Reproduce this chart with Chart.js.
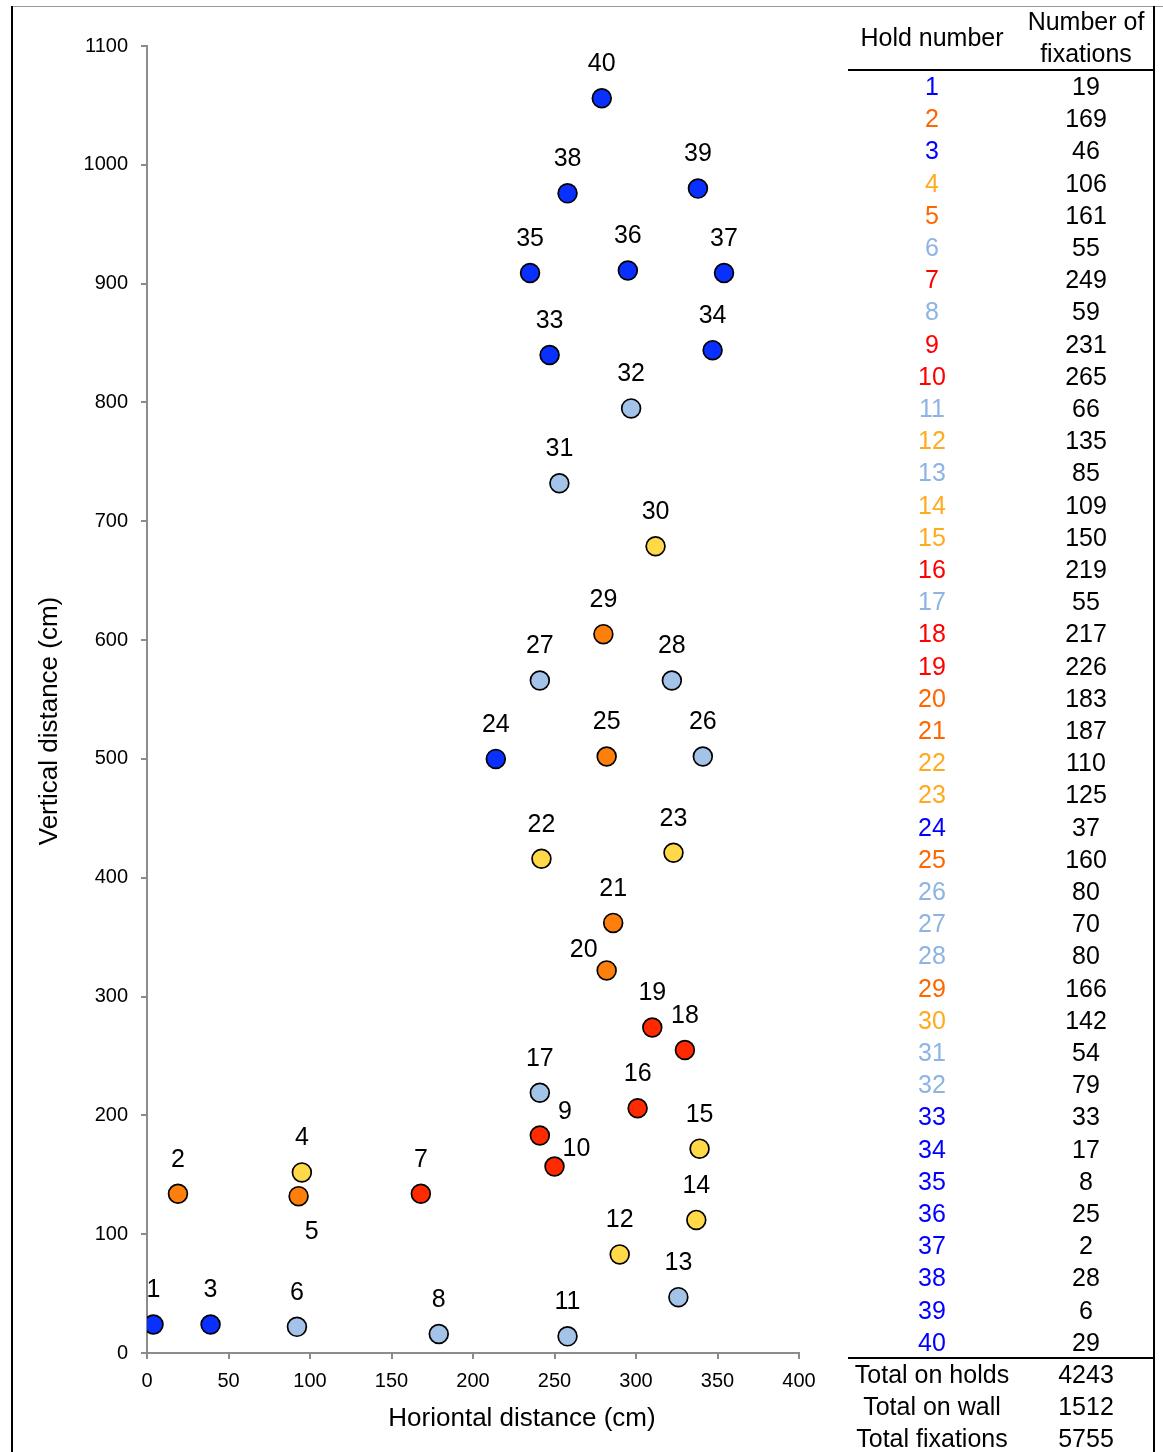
<!DOCTYPE html>
<html lang="en">
<head>
    <meta charset="UTF-8">
    <title>Hold fixations</title>
    <script src="https://cdn.jsdelivr.net/npm/chart.js"></script>
    <style>
        body {
            margin: 0;
            background: #fff;
            font-family: "Liberation Sans", Arial, sans-serif;
        }
        .page {
            position: relative;
            width: 1163px;
            height: 1452px;
            overflow: hidden;
        }
        #holdChart {
            position: absolute;
            left: 0;
            top: 0;
        }
        .frame-left, .frame-right {
            position: absolute;
            top: 6px;
            width: 2px;
            height: 1446px;
            background: #000;
        }
        .frame-left { left: 11px; }
        .frame-right { left: 1153px; }
        .frame-top {
            position: absolute;
            left: 11px;
            top: 6px;
            width: 1152px;
            height: 1px;
            background: #9a9a9a;
        }
        .tbl {
            position: absolute;
            left: 848px;
            top: 0;
            width: 306px;
            color: #000;
            font-size: 25px;
        }
        .cell {
            position: absolute;
            text-align: center;
            white-space: nowrap;
        }
        .col1 { left: 0; width: 168px; }
        .col2 { left: 168px; width: 140px; }
        .rule {
            position: absolute;
            left: 0;
            width: 306px;
            height: 2px;
            background: #000;
        }
    </style>
</head>
<body>
<div class="page">
    <canvas id="holdChart" width="1163" height="1452"></canvas>
    <div class="frame-top"></div>
    <div class="frame-left"></div>
    <div class="frame-right"></div>
    <div class="tbl" id="holdTable"></div>
</div>

<script>
    // hold positions (cm)
    const holdNumbers = [1, 2, 3, 4, 5, 6, 7, 8, 9, 10, 11, 12, 13, 14, 15, 16, 17, 18, 19, 20,
                         21, 22, 23, 24, 25, 26, 27, 28, 29, 30, 31, 32, 33, 34, 35, 36, 37, 38, 39, 40];
    const holdX = [4, 19, 39, 95, 93, 92, 168, 179, 241, 250, 258, 290, 326, 337, 339, 301, 241, 330, 310, 282,
                   286, 242, 323, 214, 282, 341, 241, 322, 280, 312, 253, 297, 247, 347, 235, 295, 354, 258, 338, 279];
    const holdY = [24, 134, 24, 152, 132, 22, 134, 16, 183, 157, 14, 83, 47, 112, 172, 206, 219, 255, 274, 322,
                   362, 416, 421, 500, 502, 502, 566, 566, 605, 679, 732, 795, 840, 844, 909, 911, 909, 976, 980, 1056];
    // B = dark blue, O = orange, Y = yellow, R = red, L = light blue
    const holdGroup = ['B', 'O', 'B', 'Y', 'O', 'L', 'R', 'L', 'R', 'R', 'L', 'Y', 'L', 'Y', 'Y', 'R', 'L', 'R', 'R', 'O',
                       'O', 'Y', 'Y', 'B', 'O', 'L', 'L', 'L', 'O', 'Y', 'L', 'L', 'B', 'B', 'B', 'B', 'B', 'B', 'B', 'B'];
    const fixations = [19, 169, 46, 106, 161, 55, 249, 59, 231, 265, 66, 135, 85, 109, 150, 219, 55, 217, 226, 183,
                       187, 110, 125, 37, 160, 80, 70, 80, 166, 142, 54, 79, 33, 17, 8, 25, 2, 28, 6, 29];
    const totalLabels = ['Total on holds', 'Total on wall', 'Total fixations'];
    const totalValues = [4243, 1512, 5755];

    const markerColors = { B: '#0a30ff', O: '#ff7f0c', Y: '#ffd948', R: '#ff2a00', L: '#a3c3e9' };
    const textColors = { B: '#0000ff', O: '#ff6600', Y: '#ffab1f', R: '#ff0000', L: '#8db4e2' };

    const FONT = '"Liberation Sans", Arial, sans-serif';

    // labels that don't sit straight above their marker
    const labelShift = { 5: [13, 36], 9: [25, -23], 10: [22, -17], 20: [-23, -20] };

    const holdLabels = {
        id: 'holdLabels',
        afterDatasetsDraw(chart) {
            const ctx = chart.ctx;
            const xs = chart.scales.x, ys = chart.scales.y;
            ctx.save();
            ctx.font = '25px ' + FONT;
            ctx.fillStyle = '#000';
            ctx.textAlign = 'center';
            ctx.textBaseline = 'middle';
            holdNumbers.forEach((n, i) => {
                const s = labelShift[n] || [0, -34];
                ctx.fillText(String(n), xs.getPixelForValue(holdX[i]) + s[0], ys.getPixelForValue(holdY[i]) + s[1]);
            });
            ctx.restore();
        },
        afterDraw(chart) {
            // axis titles, placed like the original (not centred on the plot)
            const ctx = chart.ctx;
            const a = chart.chartArea;
            ctx.save();
            ctx.font = '26px ' + FONT;
            ctx.fillStyle = '#000';
            ctx.textAlign = 'center';
            ctx.textBaseline = 'middle';
            ctx.fillText('Horiontal distance (cm)', a.left + 375, a.bottom + 66);
            ctx.translate(a.left - 97, a.top + 675);
            ctx.rotate(-Math.PI / 2);
            ctx.fillText('Vertical distance (cm)', 0, 0);
            ctx.restore();
        }
    };

    const axisGrey = '#8c8c8c';
    const plainTick = v => String(v);

    const ctx = document.getElementById('holdChart').getContext('2d');
    const holdChart = new Chart(ctx, {
        type: 'scatter',
        data: {
            datasets: [{
                data: holdX.map((x, i) => ({ x: x, y: holdY[i] })),
                backgroundColor: holdGroup.map(g => markerColors[g]),
                borderColor: '#000',
                borderWidth: 1.7,
                pointRadius: 9.4,
                pointHoverRadius: 9.4
            }]
        },
        options: {
            responsive: false,
            animation: false,
            events: [],
            layout: { padding: { left: 30, top: 46, right: 364, bottom: 18 } },
            plugins: {
                legend: { display: false },
                tooltip: { enabled: false }
            },
            scales: {
                x: {
                    type: 'linear',
                    min: 0,
                    max: 400,
                    ticks: { stepSize: 50, color: '#000', padding: 10, font: { size: 20, family: FONT }, callback: plainTick },
                    grid: { drawOnChartArea: false, tickLength: 6, color: axisGrey, lineWidth: 2 },
                    border: { color: axisGrey, width: 2 },
                    afterFit(scale) { scale.height = 81; }
                },
                y: {
                    type: 'linear',
                    min: 0,
                    max: 1100,
                    ticks: { stepSize: 100, color: '#000', padding: 13, font: { size: 20, family: FONT }, callback: plainTick },
                    grid: { drawOnChartArea: false, tickLength: 6, color: axisGrey, lineWidth: 2 },
                    border: { color: axisGrey, width: 2 },
                    afterFit(scale) { scale.width = 117; }
                }
            }
        },
        plugins: [holdLabels]
    });

    // table on the right
    const tbl = document.getElementById('holdTable');
    const ROW = 32.2;
    function addCell(text, cls, top, color, lh) {
        const d = document.createElement('div');
        d.className = 'cell ' + cls;
        d.style.top = top + 'px';
        d.style.lineHeight = (lh || ROW) + 'px';
        if (color) d.style.color = color;
        d.textContent = text;
        tbl.appendChild(d);
    }
    function addRule(top) {
        const r = document.createElement('div');
        r.className = 'rule';
        r.style.top = top + 'px';
        tbl.appendChild(r);
    }

    addCell('Hold number', 'col1', 21, null, 32);
    addCell('Number of', 'col2', 5, null, 32);
    addCell('fixations', 'col2', 37, null, 32);
    addRule(69);

    holdNumbers.forEach((n, i) => {
        const top = 70 + i * ROW;
        addCell(String(n), 'col1', top, textColors[holdGroup[i]]);
        addCell(String(fixations[i]), 'col2', top);
    });

    const endTop = 70 + holdNumbers.length * ROW;
    addRule(endTop - 1);
    totalLabels.forEach((t, i) => {
        const top = endTop + i * 32;
        addCell(t, 'col1', top, null, 32);
        addCell(String(totalValues[i]), 'col2', top, null, 32);
    });
</script>
</body>
</html>
